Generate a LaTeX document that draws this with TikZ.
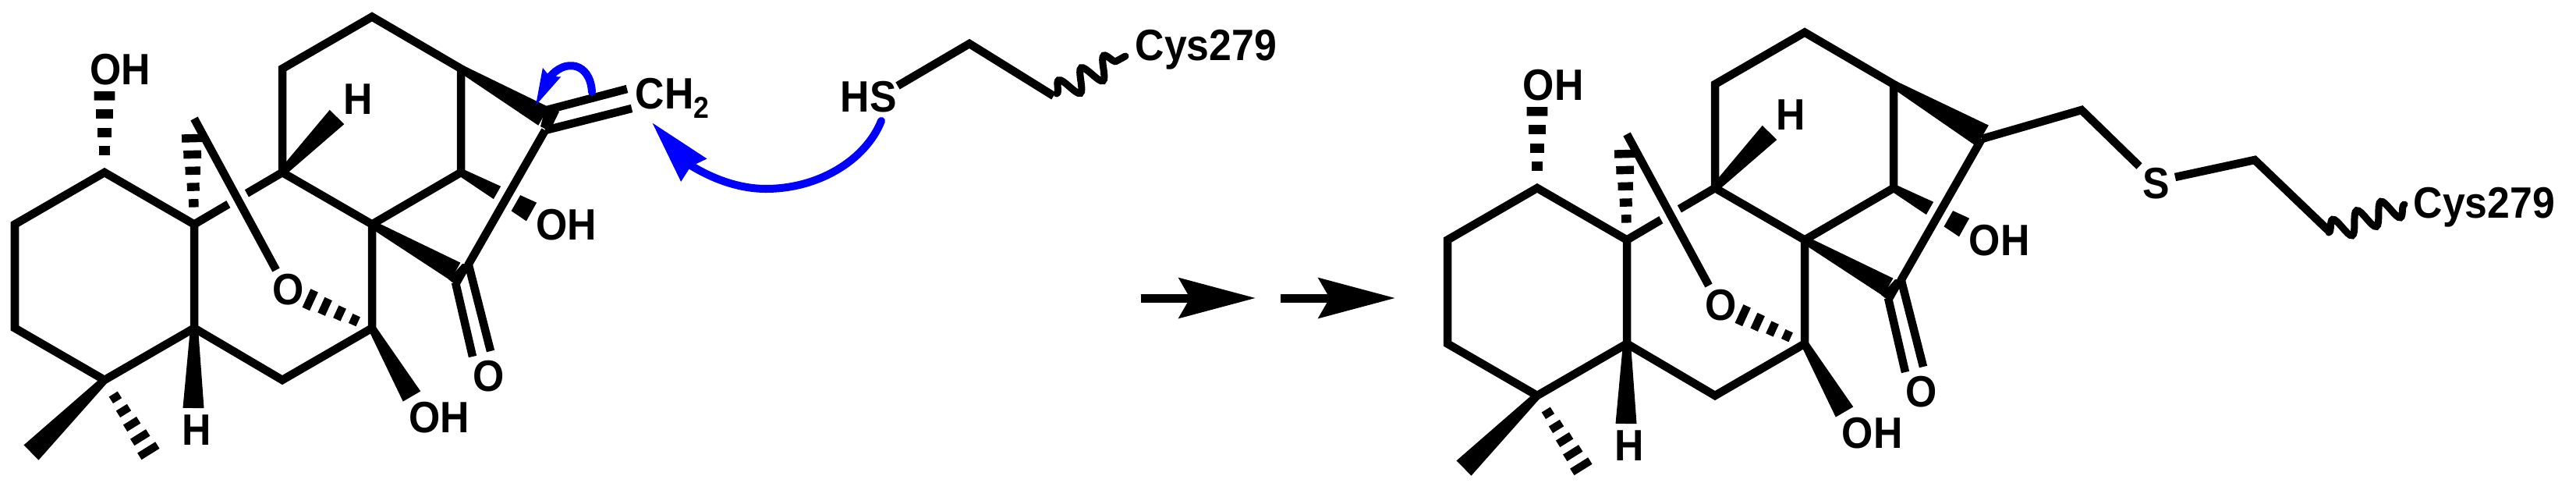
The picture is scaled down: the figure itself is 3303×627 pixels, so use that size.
\documentclass[tikz,border=0pt]{standalone}
\usepackage{fontspec}
\usepackage{tikz}
\newfontfamily\atomfont{Liberation Sans}[FakeStretch=0.92]
\usetikzlibrary{arrows.meta}
\usetikzlibrary{calc}
\usetikzlibrary{decorations.pathmorphing}
\tikzset{bond/.style = {line width = 0.105cm}}
\tikzset{bondgap/.style = {white, line width = 0.27cm}}
\tikzset{atom/.style = {anchor = base west, inner sep = 0, font = \atomfont\bfseries\fontsize{16}{16}\selectfont}}
\tikzset{wavy/.style = {line width = 0.09cm, line cap = round, decorate, decoration = {snake, segment length = 0.33cm, amplitude = 0.14cm}}}
\tikzset{pusher/.style = {blue, line width = 0.1cm, line cap = round}}
\tikzset{yields/.style = {line width = 0.11cm, -{Stealth[length = 0.98cm, width = 0.51cm, inset = 0.14cm]}}}
\newcommand{\wedgebond}[3]{%
    \fill ($(#1)!0.05cm!90:(#2)$) -- ($(#2)!#3*0.005cm!-90:(#1)$)
        -- ($(#2)!#3*0.005cm!90:(#1)$) -- ($(#1)!0.05cm!-90:(#2)$) -- cycle;}
\newcommand{\hashbond}[4]{%
    \foreach \k in {1,...,#3}{%
        \pgfmathsetmacro{\hasha}{0.1+0.9*(\k-0.5)/#3}
        \pgfmathsetmacro{\hashb}{0.1+0.9*\k/#3}
        \pgfmathsetmacro{\hashw}{#4*(0.3+0.35*(\hasha+\hashb))*0.01}
        \draw [line width = \hashw cm] ($(#1)!\hasha!(#2)$) -- ($(#1)!\hashb!(#2)$);
    }}
\newcommand{\coreframe}[1]{%
    \coordinate (a) at (134, 221);
    \coordinate (b) at (19, 287.5);
    \coordinate (c) at (19, 420.5);
    \coordinate (d) at (134, 487);
    \coordinate (e) at (249, 420.5);
    \coordinate (f) at (249, 287.5);
    \coordinate (g) at (362, 221);
    \coordinate (h) at (362, 88);
    \coordinate (i) at (477, 21.5);
    \coordinate (j) at (591, 88);
    \coordinate (k) at (591, 221);
    \coordinate (l) at (477, 287.5);
    \coordinate (m) at (477, 420.5);
    \coordinate (n) at (362, 487);
    \coordinate (q) at (600, 340);
    \coordinate (me) at (249, 152);
    \coordinate (bro) at (354, 346);
    \coordinate (co1) at (601, 340);
    \coordinate (co2) at (629, 450);
    \coordinate (co3) at (584, 362);
    \coordinate (co4) at (606, 457);
    \wedgebond{k}{681.5, 271.5}{27}
    \draw [bond] (a) -- (b) -- (c) -- (d) -- (e) -- (f) -- cycle;
    \draw [bond] (e) -- (n) -- (m) -- (l) -- (g) -- (f);
    \draw [bond] (g) -- (h) -- (i) -- (j) -- (k) -- (l);
    \draw [bondgap] ($(me)!0.47!(bro)$) -- ($(me)!0.6!(bro)$);
    \draw [bondgap] ($(p)!0.38!(q)$) -- ($(p)!0.66!(q)$);
    \draw [bond] (me) -- (bro);
    \draw [bond] (p) -- (q);
    \draw [bond] (co1) -- (co2);
    \draw [bond] (co3) -- (co4);
    \wedgebond{l}{584, 348}{26}
    \fill (593, 338) -- (605, 338) -- (588, 368) -- (575, 358) -- cycle;
    \wedgebond{g}{432, 150}{26}
    \wedgebond{e}{248, 523}{27}
    \wedgebond{m}{528, 508}{26}
    \wedgebond{d}{40, 580}{27}
    \wedgebond{j}{pw}{#1}
    \hashbond{a}{134, 117}{4}{28}
    \hashbond{f}{246, 172}{5}{27}
    \hashbond{m}{393, 382}{4}{27}
    \hashbond{d}{193, 582}{5}{28}
    \node [atom] (ohtop) at (115, 108) {OH};
    \node [atom] (hup) at (440, 146) {H};
    \node [atom] (ohmid) at (687, 307) {OH};
    \node [atom] (obr) at (349, 390) {O};
    \node [atom] (oket) at (606, 501) {O};
    \node [atom] (ohlow) at (524, 554) {OH};
    \node [atom] (hlow) at (233, 570) {H};
}

\begin{document}
\begin{tikzpicture}[x=0.01cm, y=-0.01cm]
    \useasboundingbox (0, 0) rectangle (3303, 627);
    \begin{scope}[name prefix = l-]
        \coordinate (p) at (699, 167);
        \coordinate (pw) at (697, 149);
        \coreframe{27}
        \fill (700, 136) -- (717, 143) -- (705, 168) -- (693, 162) -- cycle;
        \coordinate (cha) at (701, 141);
        \coordinate (chb) at (804, 114);
        \coordinate (chc) at (810, 139);
        \node [atom] (ch2) at (814, 139) {CH\raisebox{-0.12cm}{\fontsize{11}{11}\selectfont 2}};
        \draw [bond] (cha) -- (chb);
        \draw [bond] (p) -- (chc);
    \end{scope}
    \node [atom] (hs) at (1077, 143) {HS};
    \coordinate (sa) at (1151, 110);
    \coordinate (sb) at (1243, 56);
    \coordinate (sc) at (1351, 123);
    \coordinate (sd) at (1355, 120);
    \coordinate (se) at (1443, 72);
    \draw [bond] (sa) -- (sb) -- (sc);
    \draw [wavy] (sd) -- (se);
    \node [atom] (cysl) at (1455, 77) {Cys279};
    \coordinate (pa) at (1130, 155);
    \coordinate (pb) at (982, 242);
    \coordinate (pc) at (836, 157);
    \draw [pusher, -{Stealth[length = 0.8cm, width = 0.42cm, inset = 0.05cm]}]
        (pa) .. controls (1110, 205) and (1050, 242) .. (pb)
        .. controls (925, 242) and (880, 207) .. (pc);
    \coordinate (pd) at (759, 118);
    \coordinate (pf) at (704, 100);
    \coordinate (pe) at (686, 137);
    \draw [pusher, -{Stealth[length = 0.47cm, width = 0.23cm, inset = 0.04cm]}]
        (pd) .. controls (757, 80) and (724, 74) .. (pf) -- (pe);
    \coordinate (ya) at (1463, 382);
    \coordinate (yb) at (1610, 382);
    \coordinate (yc) at (1642, 382);
    \coordinate (yd) at (1789, 382);
    \draw [yields] (ya) -- (yb);
    \draw [yields] (yc) -- (yd);
    \begin{scope}[shift = {(1837, 20)}, name prefix = r-]
        \coordinate (p) at (704, 158);
        \coordinate (pw) at (705, 154);
        \coreframe{31}
    \end{scope}
    \coordinate (ta) at (2669, 141);
    \coordinate (tb) at (2743, 213);
    \node [atom] (sul) at (2747, 254) {S};
    \coordinate (tc) at (2789, 227);
    \coordinate (td) at (2891, 205);
    \coordinate (te) at (2985, 295);
    \coordinate (tf) at (2986, 298);
    \coordinate (tg) at (3083, 262);
    \draw [bond] (r-p) -- (ta) -- (tb);
    \draw [bond] (tc) -- (td) -- (te);
    \draw [wavy] (tf) -- (tg);
    \node [atom] (cysr) at (3094, 279) {Cys279};
\end{tikzpicture}
\end{document}
